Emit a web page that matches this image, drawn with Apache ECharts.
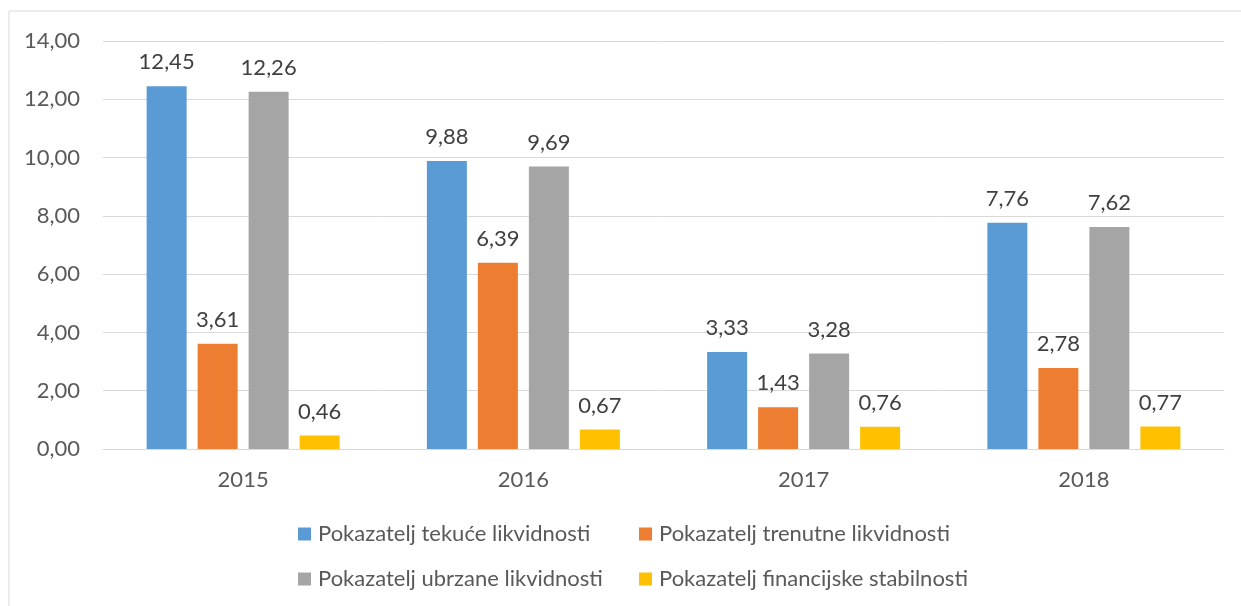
<!DOCTYPE html>
<html>
<head>
<meta charset="utf-8">
<script src="https://cdn.jsdelivr.net/npm/echarts@6/dist/echarts.min.js"></script>
<style>
html,body{margin:0;padding:0;background:#fff;}
#chart{width:1241px;height:606px;}
</style>
</head>
<body>
<div id="chart"></div>
<script>
const categories = ['2015', '2016', '2017', '2018'];
const seriesNames = [
  'Pokazatelj tekuće likvidnosti',
  'Pokazatelj trenutne likvidnosti',
  'Pokazatelj ubrzane likvidnosti',
  'Pokazatelj financijske stabilnosti'
];
const tekuce = [12.45, 9.88, 3.33, 7.76];
const trenutne = [3.61, 6.39, 1.43, 2.78];
const ubrzane = [12.26, 9.69, 3.28, 7.62];
const stabilnosti = [0.46, 0.67, 0.76, 0.77];
const colors = ['#5B9BD5', '#ED7D31', '#A5A5A5', '#FFC000'];

const FONT = 'Lato';
const TXT = '#595959';
const FS = 22;
const fmt = v => Number(v).toFixed(2).replace('.', ',');

const chart = echarts.init(document.getElementById('chart'), null, {renderer: 'canvas'});

const values = [tekuce, trenutne, ubrzane, stabilnosti];
const series = values.map((arr, i) => ({
  name: seriesNames[i],
  type: 'bar',
  data: arr,
  barWidth: 40,
  barGap: '27.5%',
  itemStyle: {color: colors[i]},
  label: {
    show: true,
    position: 'top',
    distance: 13,
    color: '#404040',
    fontFamily: FONT,
    fontSize: FS,
    formatter: p => fmt(p.value)
  },
  emphasis: {disabled: true}
}));

const legendPos = [
  {left: 298, top: 523},
  {left: 639, top: 523},
  {left: 298, top: 568},
  {left: 639, top: 568}
];
const legends = seriesNames.map((n, i) => ({
  data: [n],
  left: legendPos[i].left,
  top: legendPos[i].top,
  orient: 'horizontal',
  itemWidth: 13,
  itemHeight: 13,
  icon: 'rect',
  padding: 0,
  selectedMode: false,
  textStyle: {color: TXT, fontFamily: FONT, fontSize: FS, padding: [0, 0, 0, 2]}
}));

chart.setOption({
  animation: false,
  backgroundColor: '#fff',
  graphic: [{
    type: 'rect',
    shape: {x: 9, y: 11, width: 1300, height: 700},
    style: {fill: 'none', stroke: '#D9D9D9', lineWidth: 1},
    silent: true
  }],
  legend: legends,
  grid: {left: 103, right: 17, top: 41, bottom: 157, containLabel: false},
  xAxis: {
    type: 'category',
    data: categories,
    axisLine: {show: true, lineStyle: {color: '#D9D9D9', width: 1}},
    axisTick: {show: false},
    axisLabel: {color: TXT, fontFamily: FONT, fontSize: FS, margin: 20}
  },
  yAxis: {
    type: 'value',
    min: 0,
    max: 14,
    interval: 2,
    axisLine: {show: false},
    axisTick: {show: false},
    splitLine: {lineStyle: {color: '#D9D9D9', width: 1}},
    axisLabel: {color: TXT, fontFamily: FONT, fontSize: FS, margin: 23, formatter: v => fmt(v)}
  },
  series: series
});
</script>
</body>
</html>
